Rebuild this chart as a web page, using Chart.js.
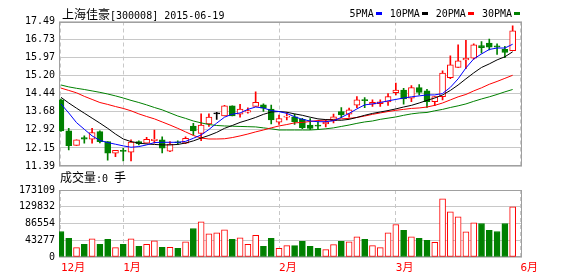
<html>
<head>
<meta charset="utf-8">
<script src="https://cdn.jsdelivr.net/npm/chart.js@4.4.1/dist/chart.umd.min.js"></script>
<style>
    body { margin: 0; background: #fff; width: 578px; height: 276px; position: relative; overflow: hidden; }
    canvas { position: absolute; left: 0; }
    .cn { font-family: "Noto Sans CJK SC"; font-size: 12px; }
    .en { font-family: "DejaVu Sans Mono"; font-size: 10px; }
    #title { position: absolute; left: 62px; top: 6px; line-height: 16px; white-space: nowrap; color: #000; }
    #legend { position: absolute; right: 58px; top: 6px; line-height: 16px; white-space: nowrap; }
    #legend i { display: inline-block; width: 6px; height: 3px; margin: 0 8px 0 2px; vertical-align: middle; }
    #legend i:last-child { margin-right: 0; }
    #volLabel { position: absolute; left: 60px; top: 169px; line-height: 16px; white-space: nowrap; }
</style>
</head>
<body>
    <canvas id="kChart" width="578" height="176" style="top:0px"></canvas>
    <canvas id="vChart" width="578" height="96" style="top:180px"></canvas>
    <div id="title"><span class="cn">上海佳豪</span><span class="en">[300008] 2015-06-19</span></div>
    <div id="legend"></div>
    <div id="volLabel"><span class="cn">成交量</span><span class="en">:0 </span><span class="cn">手</span></div>
</body>

<script>
    // daily candles, mid Dec 2014 .. 2015-06-19
    var open = [14.18, 12.87, 12.26, 12.59, 12.52, 12.84, 12.42, 11.93, 12.05, 11.97,
        12.42, 12.35, 12.46, 12.49, 12.02, 12.40, 12.35, 13.08, 12.77, 13.17,
        13.59, 13.50, 13.93, 13.58, 13.66, 13.91, 13.97, 13.79, 13.24, 13.45,
        13.47, 13.36, 13.12, 13.10, 13.17, 13.30, 13.69, 13.58, 13.96, 14.18,
        14.00, 14.02, 14.10, 14.49, 14.60, 14.25, 14.70, 14.56, 14.11, 14.32,
        15.12, 15.55, 15.87, 15.94, 16.47, 16.58, 16.46, 16.32, 16.26]
    var high = [14.22, 12.98, 12.49, 12.66, 12.98, 12.87, 12.42, 12.05, 12.14, 12.49,
        12.45, 12.60, 12.91, 12.62, 12.42, 12.45, 12.62, 13.19, 13.59, 13.59,
        13.66, 13.95, 13.93, 13.99, 13.85, 14.52, 14.01, 13.96, 13.54, 13.65,
        13.58, 13.40, 13.39, 13.25, 13.33, 13.58, 13.86, 13.83, 14.32, 14.28,
        14.18, 14.18, 14.45, 14.89, 14.67, 14.79, 14.83, 14.63, 14.32, 15.41,
        16.04, 16.50, 16.70, 16.55, 16.64, 16.75, 16.55, 16.44, 17.31]
    var low = [12.85, 12.07, 12.26, 12.35, 12.35, 12.36, 11.64, 11.78, 11.60, 11.60,
        12.28, 12.35, 12.35, 11.94, 11.99, 12.30, 12.33, 12.70, 12.46, 13.06,
        13.36, 13.50, 13.50, 13.45, 13.62, 13.91, 13.69, 13.17, 13.15, 13.33,
        13.15, 12.97, 12.92, 12.97, 13.04, 13.21, 13.43, 13.45, 13.85, 13.85,
        13.90, 13.90, 13.95, 14.39, 14.00, 14.11, 14.39, 13.86, 13.94, 14.18,
        15.08, 15.55, 15.50, 15.90, 16.15, 16.29, 16.10, 15.96, 16.26]
    var close = [12.87, 12.25, 12.49, 12.52, 12.80, 12.42, 11.93, 12.05, 12.01, 12.40,
        12.33, 12.52, 12.52, 12.14, 12.32, 12.37, 12.56, 12.87, 13.12, 13.45,
        13.59, 13.93, 13.50, 13.79, 13.73, 14.08, 13.83, 13.33, 13.39, 13.50,
        13.26, 13.01, 12.98, 13.07, 13.24, 13.47, 13.55, 13.76, 14.18, 14.15,
        14.08, 14.10, 14.32, 14.60, 14.22, 14.70, 14.50, 14.11, 14.32, 15.31,
        15.66, 15.83, 15.94, 16.50, 16.39, 16.41, 16.41, 16.18, 17.10]
    var volume = [66000, 48000, 24100, 32600, 47200, 32600, 45400, 24100, 32600, 47200,
        27500, 32600, 42100, 24900, 24900, 22300, 39500, 73700, 90900, 60100,
        62600, 70400, 45400, 49800, 32600, 55700, 27500, 48000, 22300, 29300,
        29300, 40300, 27500, 22300, 19000, 31800, 40300, 39500, 52400, 45400,
        29300, 24100, 62600, 84000, 68600, 52400, 48000, 42900, 37700, 150000,
        116600, 103700, 65200, 88300, 86500, 68600, 66000, 86500, 129400]

    var ma5 = [14.01, 13.63, 13.22, 12.94, 12.66, 12.47, 12.38, 12.31, 12.24, 12.18,
        12.21, 12.28, 12.38, 12.39, 12.39, 12.39, 12.43, 12.56, 12.70, 12.93,
        13.20, 13.45, 13.58, 13.63, 13.78, 13.88, 13.84, 13.73, 13.69, 13.61,
        13.47, 13.36, 13.29, 13.26, 13.26, 13.30, 13.44, 13.61, 13.80, 13.97,
        14.01, 14.07, 14.14, 14.20, 14.26, 14.31, 14.35, 14.39, 14.39, 14.45,
        14.71, 15.07, 15.53, 15.91, 16.12, 16.31, 16.37, 16.37, 16.53]
    var ma10 = [14.29, 14.05, 13.83, 13.62, 13.41, 13.20, 12.98, 12.74, 12.53, 12.42,
        12.36, 12.32, 12.30, 12.28, 12.28, 12.30, 12.36, 12.45, 12.57, 12.68,
        12.81, 12.98, 13.10, 13.23, 13.33, 13.44, 13.57, 13.67, 13.69, 13.66,
        13.59, 13.53, 13.45, 13.38, 13.35, 13.33, 13.32, 13.36, 13.44, 13.53,
        13.61, 13.67, 13.73, 13.80, 13.88, 13.95, 14.05, 14.16, 14.26, 14.39,
        14.58, 14.81, 15.07, 15.32, 15.55, 15.70, 15.87, 16.00, 16.21]
    var ma20 = [14.68, 14.58, 14.48, 14.33, 14.20, 14.07, 13.99, 13.90, 13.82, 13.72,
        13.59, 13.48, 13.38, 13.25, 13.12, 12.98, 12.83, 12.68, 12.57, 12.53,
        12.53, 12.54, 12.59, 12.66, 12.74, 12.83, 12.91, 13.00, 13.08, 13.14,
        13.21, 13.23, 13.27, 13.31, 13.33, 13.36, 13.38, 13.40, 13.44, 13.50,
        13.57, 13.63, 13.69, 13.74, 13.78, 13.82, 13.84, 13.88, 13.95, 14.05,
        14.18, 14.31, 14.41, 14.56, 14.69, 14.84, 14.96, 15.09, 15.22]
    var ma30 = [14.81, 14.73, 14.67, 14.62, 14.56, 14.50, 14.43, 14.35, 14.26, 14.16,
        14.07, 13.97, 13.86, 13.76, 13.63, 13.50, 13.40, 13.29, 13.21, 13.14,
        13.10, 13.08, 13.07, 13.06, 13.05, 13.04, 13.00, 12.96, 12.91, 12.91,
        12.91, 12.91, 12.91, 12.93, 12.96, 13.00, 13.06, 13.12, 13.19, 13.25,
        13.29, 13.36, 13.41, 13.46, 13.53, 13.59, 13.63, 13.65, 13.72, 13.78,
        13.86, 13.93, 14.01, 14.12, 14.22, 14.31, 14.41, 14.52, 14.62]

    var priceTicks = [11.39, 12.15, 12.92, 13.68, 14.44, 15.20, 15.97, 16.73, 17.49]
    var volTicks = [0, 43277, 86554, 129832, 173109]
    var monthPos = [0, 8, 28, 43, 59]
    var monthLabels = ["12月", "1月", "2月", "3月", "6月"]

    var RED = "#ff0000", GREEN = "#008000", GRID = "#c8c8c8", BOXC = "#a0a0a0"
    var monoFont = { family: "DejaVu Sans Mono", size: 10 }

    var candleCol = [], bodyFill = [], volCol = [], volFill = []
    for (var i = 0; i < close.length; i++) {
        if (close[i] > open[i]) { candleCol.push(RED); bodyFill.push("#ffffff") }
        else if (close[i] < open[i]) { candleCol.push(GREEN); bodyFill.push(GREEN) }
        else { candleCol.push("#000000"); bodyFill.push("#000000") }
        if (close[i] >= open[i]) { volCol.push(RED); volFill.push("#ffffff") }
        else { volCol.push(GREEN); volFill.push(GREEN) }
    }

    function pts(arr) {
        return arr.map(function (v, i) { return { x: i, y: v } })
    }

    // frame round the plot area
    var boxPlugin = {
        id: "box",
        beforeDatasetsDraw: function (chart) {
            var a = chart.chartArea, ctx = chart.ctx
            ctx.save()
            ctx.strokeStyle = BOXC
            ctx.lineWidth = 1
            var l = Math.round(a.left) + 0.5, t = Math.round(a.top) + 0.5
            ctx.strokeRect(l, t, Math.round(a.right) - 0.5 - l, Math.round(a.bottom) - 0.5 - t)
            ctx.restore()
        }
    }

    function monthAxis(showLabels) {
        return {
            type: "linear", min: -0.25, max: 59.2, offset: false,
            afterBuildTicks: function (s) { s.ticks = monthPos.map(function (v) { return { value: v } }) },
            afterFit: function (s) { s.height = showLabels ? 19 : 0 },
            grid: { color: GRID, drawTicks: false, offset: false },
            border: { display: false, dash: [4, 3] },
            ticks: {
                display: showLabels, autoSkip: false, maxRotation: 0, align: "start", padding: 5,
                color: RED, font: { family: "'DejaVu Sans Mono', 'Noto Sans CJK SC'", size: 11 },
                callback: function (v) { var k = monthPos.indexOf(v); return k >= 0 ? monthLabels[k] : "" }
            }
        }
    }

    var lines = [
        { label: "5PMA", data: ma5, color: "#0000ff" },
        { label: "10PMA", data: ma10, color: "#000000" },
        { label: "20PMA", data: ma20, color: "#ff0000" },
        { label: "30PMA", data: ma30, color: "#008000" }
    ]

    var kSets = [
        {
            type: "bar", data: open.map(function (o, i) { return { x: i, y: [low[i], high[i]] } }),
            backgroundColor: candleCol, barThickness: 1, grouped: false, order: 3
        },
        {
            type: "bar", data: open.map(function (o, i) { return { x: i, y: [o, close[i]] } }),
            backgroundColor: bodyFill, borderColor: candleCol, borderWidth: 1, borderSkipped: false,
            barThickness: 6, minBarLength: 1, grouped: false, order: 2
        }
    ]
    lines.forEach(function (l) {
        kSets.push({
            type: "line", label: l.label, data: pts(l.data), borderColor: l.color, backgroundColor: l.color,
            borderWidth: 1, pointRadius: 0, tension: 0, order: 1
        })
    })

    var kChart = new Chart("kChart", {
        type: "bar",
        data: { datasets: kSets },
        options: {
            responsive: false, animation: false, devicePixelRatio: 1,
            layout: { padding: { left: 0, right: 56, top: 21.5, bottom: 10 } },
            plugins: { legend: { display: false }, tooltip: { enabled: false } },
            scales: {
                x: monthAxis(false),
                y: {
                    min: 11.39, max: 17.49,
                    afterBuildTicks: function (s) { s.ticks = priceTicks.map(function (v) { return { value: v } }) },
                    afterFit: function (s) { s.width = 59 },
                    grid: { color: GRID, drawTicks: false },
                    border: { display: false },
                    ticks: { color: "#000", font: monoFont, padding: 4, callback: function (v) { return v.toFixed(2) } }
                }
            }
        },
        plugins: [boxPlugin]
    })

    new Chart("vChart", {
        type: "bar",
        data: {
            datasets: [{
                data: pts(volume), backgroundColor: volFill, borderColor: volCol, borderWidth: 1,
                borderSkipped: false, barThickness: 6, grouped: false
            }]
        },
        options: {
            responsive: false, animation: false, devicePixelRatio: 1,
            layout: { padding: { left: 0, right: 56, top: 9, bottom: 0 } },
            plugins: { legend: { display: false }, tooltip: { enabled: false } },
            scales: {
                x: monthAxis(true),
                y: {
                    min: 0, max: 173109,
                    afterBuildTicks: function (s) { s.ticks = volTicks.map(function (v) { return { value: v } }) },
                    afterFit: function (s) { s.width = 59 },
                    grid: { color: GRID, drawTicks: false },
                    border: { display: false },
                    ticks: { color: "#000", font: monoFont, padding: 4, callback: function (v) { return String(v) } }
                }
            }
        },
        plugins: [boxPlugin]
    })

    // legend built from the line datasets: name, then a short coloured dash
    var lg = document.getElementById("legend")
    kChart.data.datasets.forEach(function (d) {
        if (d.type != "line") return
        lg.innerHTML += '<span class="en">' + d.label + '</span><i style="background:' + d.borderColor + '"></i>'
    })
</script>
</html>
